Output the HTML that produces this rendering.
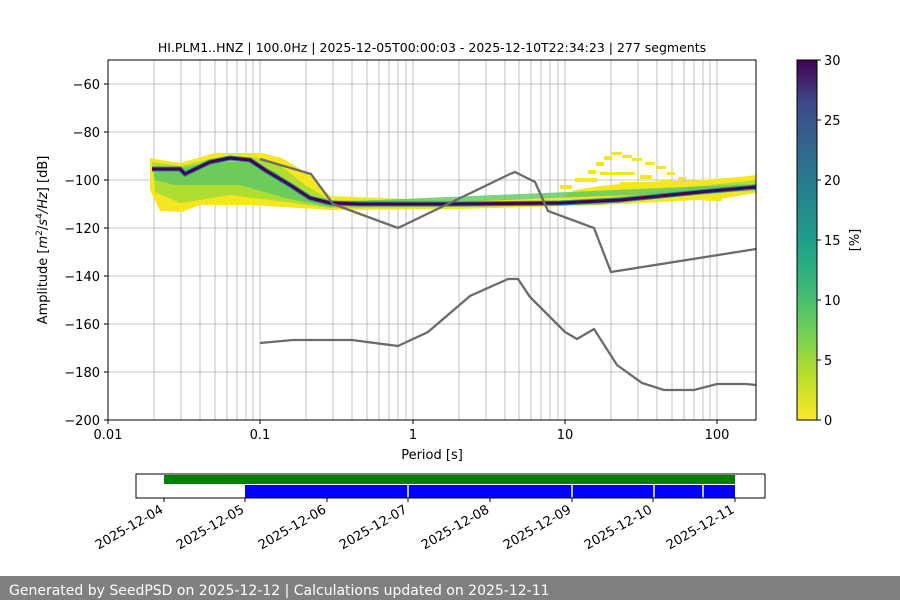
<!DOCTYPE html>
<html><head><meta charset="utf-8"><style>
html,body{margin:0;padding:0;background:#fff;width:900px;height:600px;overflow:hidden}
svg text{font-family:"DejaVu Sans","Liberation Sans",sans-serif;fill:#000}
</style></head><body>
<svg width="900" height="600" viewBox="0 0 900 600" xmlns="http://www.w3.org/2000/svg">
<defs>
<linearGradient id="vir" x1="0" y1="1" x2="0" y2="0">
<stop offset="0" stop-color="#fde725"/><stop offset="0.13" stop-color="#b5de2b"/><stop offset="0.25" stop-color="#6ece58"/><stop offset="0.38" stop-color="#35b779"/><stop offset="0.5" stop-color="#1f9e89"/><stop offset="0.63" stop-color="#26828e"/><stop offset="0.75" stop-color="#31688e"/><stop offset="0.88" stop-color="#3e4989"/><stop offset="1" stop-color="#440154"/>
</linearGradient>
<clipPath id="ax"><rect x="108" y="60" width="648" height="360"/></clipPath>
</defs>
<text x="432" y="52" font-size="12.5" text-anchor="middle">HI.PLM1..HNZ | 100.0Hz | 2025-12-05T00:00:03 - 2025-12-10T22:34:23 | 277 segments</text>
<g stroke="#b0b0b0" stroke-width="0.8">
<line x1="154" y1="60" x2="154" y2="420"/><line x1="181" y1="60" x2="181" y2="420"/><line x1="200" y1="60" x2="200" y2="420"/><line x1="215" y1="60" x2="215" y2="420"/><line x1="227" y1="60" x2="227" y2="420"/><line x1="237" y1="60" x2="237" y2="420"/><line x1="246" y1="60" x2="246" y2="420"/><line x1="253" y1="60" x2="253" y2="420"/><line x1="260" y1="60" x2="260" y2="420"/>
<line x1="306" y1="60" x2="306" y2="420"/><line x1="333" y1="60" x2="333" y2="420"/><line x1="352" y1="60" x2="352" y2="420"/><line x1="367" y1="60" x2="367" y2="420"/><line x1="379" y1="60" x2="379" y2="420"/><line x1="389" y1="60" x2="389" y2="420"/><line x1="398" y1="60" x2="398" y2="420"/><line x1="406" y1="60" x2="406" y2="420"/><line x1="413" y1="60" x2="413" y2="420"/>
<line x1="459" y1="60" x2="459" y2="420"/><line x1="486" y1="60" x2="486" y2="420"/><line x1="505" y1="60" x2="505" y2="420"/><line x1="519" y1="60" x2="519" y2="420"/><line x1="531" y1="60" x2="531" y2="420"/><line x1="541" y1="60" x2="541" y2="420"/><line x1="550" y1="60" x2="550" y2="420"/><line x1="558" y1="60" x2="558" y2="420"/><line x1="565" y1="60" x2="565" y2="420"/>
<line x1="611" y1="60" x2="611" y2="420"/><line x1="638" y1="60" x2="638" y2="420"/><line x1="657" y1="60" x2="657" y2="420"/><line x1="672" y1="60" x2="672" y2="420"/><line x1="684" y1="60" x2="684" y2="420"/><line x1="694" y1="60" x2="694" y2="420"/><line x1="703" y1="60" x2="703" y2="420"/><line x1="710" y1="60" x2="710" y2="420"/><line x1="717" y1="60" x2="717" y2="420"/>
<line x1="108" y1="84" x2="756" y2="84"/><line x1="108" y1="132" x2="756" y2="132"/><line x1="108" y1="180" x2="756" y2="180"/><line x1="108" y1="228" x2="756" y2="228"/><line x1="108" y1="276" x2="756" y2="276"/><line x1="108" y1="324" x2="756" y2="324"/><line x1="108" y1="372" x2="756" y2="372"/>
</g>
<g clip-path="url(#ax)">
<polygon fill="#f5e61f" points="150,158 180,163 215,153 262,153 282,158 310,175 330,196 460,201 560,198 575,190 600,186 640,182 700,180 740,177 756,175 756,193 720,199 600,205 460,209 330,210 250,205 200,205 182,212 160,211 150,190"/>
<g fill="#f5e61f">
<rect x="560" y="185" width="12" height="4"/><rect x="575" y="178" width="10" height="4"/><rect x="588" y="170" width="8" height="4"/><rect x="596" y="162" width="8" height="4"/><rect x="604" y="156" width="8" height="4"/><rect x="612" y="152" width="10" height="3"/><rect x="622" y="155" width="10" height="3"/><rect x="632" y="158" width="10" height="3"/><rect x="645" y="162" width="10" height="3"/><rect x="656" y="166" width="10" height="3"/><rect x="667" y="172" width="8" height="3"/><rect x="678" y="177" width="8" height="3"/>
<rect x="600" y="172" width="35" height="3"/><rect x="585" y="178" width="12" height="4"/><rect x="640" y="175" width="12" height="4"/><rect x="660" y="180" width="12" height="4"/><rect x="620" y="182" width="30" height="4"/><rect x="690" y="185" width="20" height="4"/>
<rect x="706" y="196" width="16" height="5"/><rect x="680" y="196" width="18" height="4"/>
</g>
<polygon fill="#a8db34" opacity="0.9" points="152,162 180,166 215,158 255,157 280,165 305,185 330,200 460,202 560,201 620,196 700,186 756,180 756,191 700,194 600,205 460,207 330,208 270,200 230,195 200,200 180,203 155,192"/>
<polygon fill="#5cc863" opacity="0.8" points="153,168 180,168 212,162 250,162 275,172 300,192 330,202 756,184 756,190 330,207 285,198 240,185 200,185 175,185 155,180"/>
<polyline fill="none" stroke="#2a8a8a" stroke-width="5" points="152,169 180,169 185,174 210,162 230,158 250,160 265,170 290,185 310,198 330,203 360,204 450,204 560,203 620,200 700,192 756,187"/>
<polyline fill="none" stroke="#440154" stroke-width="3" points="152,169 180,169 185,174 210,162 230,158 250,160 265,170 290,185 310,198 330,203 360,204 450,204 560,203 620,200 700,192 756,187"/>
<g fill="none" stroke="#6b6b6b" stroke-width="2.3">
<polyline points="260,159 311,174 333,204 398,228 510,174 515,172 535,182 548,211 594,228 611,272 756,249"/>
<polyline points="260,343 293,340 352,340 398,346 428,332 470,296 508,279 518,279 530,297 565,332 577,339 594,329 617,365 642,383 664,390 694,390 717,384 746,384 756,385"/>
</g>
</g>
<rect x="108" y="60" width="648" height="360" fill="none" stroke="#000" stroke-width="1"/>
<g stroke="#000" stroke-width="1">
<line x1="108" y1="420" x2="108" y2="424"/><line x1="260" y1="420" x2="260" y2="424"/><line x1="413" y1="420" x2="413" y2="424"/><line x1="565" y1="420" x2="565" y2="424"/><line x1="717" y1="420" x2="717" y2="424"/>
<line x1="104" y1="84" x2="108" y2="84"/><line x1="104" y1="132" x2="108" y2="132"/><line x1="104" y1="180" x2="108" y2="180"/><line x1="104" y1="228" x2="108" y2="228"/><line x1="104" y1="276" x2="108" y2="276"/><line x1="104" y1="324" x2="108" y2="324"/><line x1="104" y1="372" x2="108" y2="372"/><line x1="104" y1="420" x2="108" y2="420"/>
</g>
<g font-size="13" text-anchor="middle">
<text x="108" y="439">0.01</text><text x="260" y="439">0.1</text><text x="413" y="439">1</text><text x="565" y="439">10</text><text x="717" y="439">100</text>
</g>
<text x="432" y="459" font-size="13" text-anchor="middle">Period [s]</text>
<g font-size="13" text-anchor="end">
<text x="100" y="89">−60</text><text x="100" y="137">−80</text><text x="100" y="185">−100</text><text x="100" y="233">−120</text><text x="100" y="281">−140</text><text x="100" y="329">−160</text><text x="100" y="377">−180</text><text x="100" y="425">−200</text>
</g>
<text transform="translate(47,240) rotate(-90)" font-size="13" text-anchor="middle">Amplitude [<tspan font-style="italic">m</tspan><tspan font-size="9" dy="-5">2</tspan><tspan dy="5">/</tspan><tspan font-style="italic">s</tspan><tspan font-size="9" dy="-5">4</tspan><tspan dy="5" font-style="italic">/Hz</tspan>] [dB]</text>
<rect x="797" y="60" width="20" height="360" fill="url(#vir)"/>
<rect x="797" y="60" width="20" height="360" fill="none" stroke="#000" stroke-width="1"/>
<g stroke="#000"><line x1="817" y1="420" x2="821" y2="420"/><line x1="817" y1="360" x2="821" y2="360"/><line x1="817" y1="300" x2="821" y2="300"/><line x1="817" y1="240" x2="821" y2="240"/><line x1="817" y1="180" x2="821" y2="180"/><line x1="817" y1="120" x2="821" y2="120"/><line x1="817" y1="60" x2="821" y2="60"/></g>
<g font-size="13"><text x="824" y="425">0</text><text x="824" y="365">5</text><text x="824" y="305">10</text><text x="824" y="245">15</text><text x="824" y="185">20</text><text x="824" y="125">25</text><text x="824" y="65">30</text></g>
<text transform="translate(859,240) rotate(-90)" font-size="13" text-anchor="middle">[%]</text>
<rect x="164" y="475" width="571" height="9" fill="#008000"/>
<rect x="245" y="485" width="490" height="13" fill="#0000ff"/>
<g stroke="#fff" stroke-width="1.5"><line x1="408" y1="485" x2="408" y2="498"/><line x1="572" y1="485" x2="572" y2="498"/><line x1="654" y1="485" x2="654" y2="498"/><line x1="703" y1="485" x2="703" y2="498"/></g>
<rect x="136" y="474" width="629" height="24" fill="none" stroke="#000" stroke-width="1"/>
<g stroke="#000"><line x1="164" y1="498" x2="164" y2="502"/><line x1="245" y1="498" x2="245" y2="502"/><line x1="327" y1="498" x2="327" y2="502"/><line x1="408" y1="498" x2="408" y2="502"/><line x1="490" y1="498" x2="490" y2="502"/><line x1="572" y1="498" x2="572" y2="502"/><line x1="653" y1="498" x2="653" y2="502"/><line x1="735" y1="498" x2="735" y2="502"/></g>
<g font-size="13" text-anchor="end">
<text transform="translate(164,512) rotate(-30)">2025-12-04</text>
<text transform="translate(245,512) rotate(-30)">2025-12-05</text>
<text transform="translate(327,512) rotate(-30)">2025-12-06</text>
<text transform="translate(408,512) rotate(-30)">2025-12-07</text>
<text transform="translate(490,512) rotate(-30)">2025-12-08</text>
<text transform="translate(572,512) rotate(-30)">2025-12-09</text>
<text transform="translate(653,512) rotate(-30)">2025-12-10</text>
<text transform="translate(735,512) rotate(-30)">2025-12-11</text>
</g>
<rect x="0" y="576" width="900" height="24" fill="#808080"/>
<text x="9" y="595" font-size="14" style="fill:#fff">Generated by SeedPSD on 2025-12-12 | Calculations updated on 2025-12-11</text>
</svg>
</body></html>
